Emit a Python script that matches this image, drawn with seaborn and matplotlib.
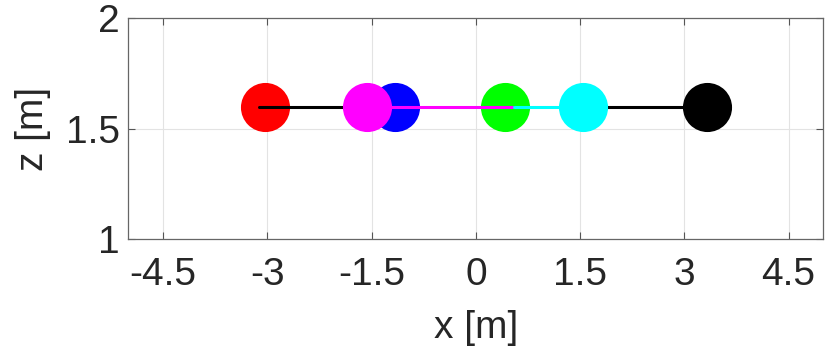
import numpy as np
import pandas as pd
import matplotlib
matplotlib.use("Agg")
import matplotlib.pyplot as plt
import seaborn as sns

# joint positions (all at the same height)
joint_names = ["red", "blue", "lime", "magenta", "cyan", "black"]
joint_x = [-3.03, -1.17, 0.42, -1.57, 1.54, 3.33]
joint_z = [1.6, 1.6, 1.6, 1.6, 1.6, 1.6]

# links between joints
link_colors = ["black", "magenta", "cyan", "black"]
link_x0 = [-3.12, -1.57, 0.55, 1.54]
link_x1 = [-1.57, 0.55, 1.54, 3.33]
link_z = [1.6, 1.6, 1.6, 1.6]

x_ticks = [-4.5, -3, -1.5, 0, 1.5, 3, 4.5]
x_tick_labels = ["-4.5", "-3", "-1.5", "0", "1.5", "3", "4.5"]
z_ticks = [1, 1.5, 2]
z_tick_labels = ["1", "1.5", "2"]

sns.set_style("whitegrid")
plt.rcParams['font.family'] = ['Liberation Sans Narrow', 'Liberation Sans', 'DejaVu Sans']

fig = plt.figure(figsize=(8.3, 3.53), dpi=100)
ax = fig.add_axes([0.1546, 0.322, 0.992 - 0.1546, 0.948 - 0.322])

joints = pd.DataFrame({"name": joint_names, "x": joint_x, "z": joint_z})
# markers under the links
under = ["red", "blue", "lime"]
for name in joint_names:
    row = joints[joints["name"] == name]
    zo = 2 if name in under else 4
    sns.scatterplot(data=row, x="x", y="z", color=name, s=1250, linewidth=0,
                    ax=ax, zorder=zo, legend=False)

for c, a, b, z in zip(link_colors, link_x0, link_x1, link_z):
    seg = pd.DataFrame({"x": [a, b], "z": [z, z]})
    sns.lineplot(data=seg, x="x", y="z", color=c, linewidth=2.2, ax=ax,
                 zorder=3, solid_capstyle="round", estimator=None, sort=False)

ax.set_xlim(-5, 5)
ax.set_ylim(1, 2)
ax.set_xticks(x_ticks)
ax.set_xticklabels(x_tick_labels)
ax.set_yticks(z_ticks)
ax.set_yticklabels(z_tick_labels)
ax.set_xlabel("x [m]", fontsize=28, color="#262626", labelpad=12)
ax.set_ylabel("z [m]", fontsize=28, color="#262626", labelpad=11)
ax.tick_params(axis="both", labelsize=28, colors="#262626", direction="in",
               length=5, width=0.8, top=True, right=True, bottom=True, left=True)
ax.tick_params(axis="x", pad=13)
ax.tick_params(axis="y", pad=6)
ax.tick_params(axis="both", color="#555555")
ax.grid(True, color="#e3e3e3", linewidth=0.8)
for s in ax.spines.values():
    s.set_visible(True)
    s.set_color("#666666")
    s.set_linewidth(0.9)
ax.set_facecolor("white")

fig.savefig("out.png", dpi=100)
